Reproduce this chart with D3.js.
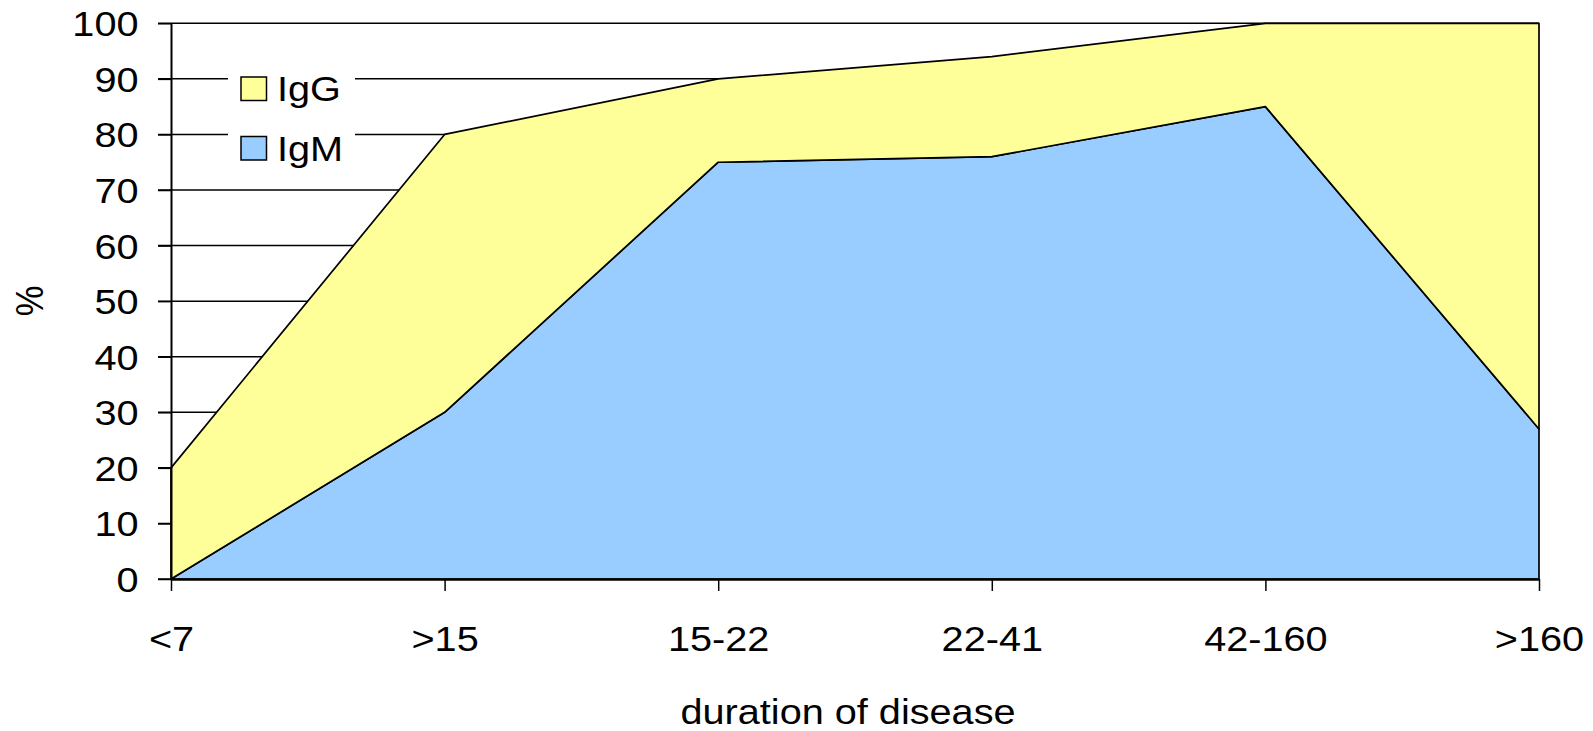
<!DOCTYPE html>
<html>
<head>
<meta charset="utf-8">
<script src="https://cdn.jsdelivr.net/npm/d3@7"></script>
<style>
  body { margin: 0; background: #fff; }
  text { font-family: "Liberation Sans", Arial, sans-serif; fill: #000; }
</style>
</head>
<body>
<svg id="chart" width="1593" height="731"></svg>
<script>
// data
const categories = ["<7", ">15", "15-22", "22-41", "42-160", ">160"]
const igM = [0, 30, 75, 76, 85, 27]
const igG = [20, 50, 15, 18, 15, 73]
const yTicks = [0, 10, 20, 30, 40, 50, 60, 70, 80, 90, 100]
const seriesNames = ["IgM", "IgG"]
const seriesColors = {"IgM": "#99CCFF", "IgG": "#FFFF99"}

// the original text looks a bit stretched sideways
const FS = 34.5
const SX = 1.15

const svg = d3.select('#chart')
const plotLeft = 171, plotRight = 1539, plotTop = 23.3, plotBottom = 579

const x = d3.scalePoint().domain(categories).range([plotLeft, plotRight])
const y = d3.scaleLinear().domain([0, 100]).range([plotBottom, plotTop])

// table for the stack
const table = categories.map((c, i) => ({cat: c, IgM: igM[i], IgG: igG[i]}))
const stacked = d3.stack().keys(seriesNames)(table)

//gridlines (behind the areas)
svg.append("g")
  .selectAll("line")
  .data(yTicks)
  .join("line")
    .attr("x1", plotLeft - 13)
    .attr("x2", plotRight)
    .attr("y1", d => y(d))
    .attr("y2", d => y(d))
    .attr("stroke", "#000")
    .attr("stroke-width", 1.5)

// areas
const area = d3.area()
  .x(d => x(d.data.cat))
  .y0(d => y(d[0]))
  .y1(d => y(d[1]))

svg.append("g")
  .selectAll("path")
  .data(stacked)
  .join("path")
    .attr("d", area)
    .attr("fill", d => seriesColors[d.key])
    .attr("stroke", "#000")
    .attr("stroke-width", 1.7)
    .attr("stroke-linejoin", "round")

// y axis
const yAxis = svg.append("g")
  .attr("transform", `translate(${plotLeft},0)`)
  .call(d3.axisLeft(y).tickValues(yTicks).tickSize(13).tickSizeOuter(0))
yAxis.select(".domain").attr("stroke-width", 2)
yAxis.selectAll(".tick line").attr("stroke-width", 1.5)
yAxis.selectAll(".tick text")
  .style("font-size", FS + "px")
  .attr("fill", "#000")
  .attr("x", -32.5 / SX)
  .attr("dy", "0.36em")
  .attr("transform", `scale(${SX},1)`)

// x axis
const xAxis = svg.append("g")
  .attr("transform", `translate(0,${plotBottom})`)
  .call(d3.axisBottom(x).tickSize(12).tickSizeOuter(0))
xAxis.select(".domain").attr("stroke-width", 2.5)
xAxis.selectAll(".tick line").attr("stroke-width", 1.5)
xAxis.selectAll(".tick text")
  .style("font-size", FS + "px")
  .attr("fill", "#000")
  .attr("y", 72)
  .attr("dy", 0)
  .attr("transform", `scale(${SX},1)`)

// axis titles
svg.append("text")
  .attr("transform", `translate(848,724) scale(${SX},1)`)
  .attr("text-anchor", "middle")
  .style("font-size", FS + "px")
  .text("duration of disease")

svg.append("text")
  .attr("transform", `translate(43,301) rotate(-90) scale(1,${SX})`)
  .attr("text-anchor", "middle")
  .style("font-size", FS + "px")
  .text("%")

// legend, white box hides the gridlines
const legend = svg.append("g")
legend.append("rect")
  .attr("x", 228).attr("y", 60).attr("width", 127).attr("height", 118)
  .attr("fill", "#fff")

const legendItems = ["IgG", "IgM"]
legendItems.forEach((name, i) => {
  legend.append("rect")
    .attr("x", 241).attr("y", 77 + i * 59.5)
    .attr("width", 25.5).attr("height", 23.5)
    .attr("fill", seriesColors[name])
    .attr("stroke", "#000")
    .attr("stroke-width", 1.5)
  legend.append("text")
    .attr("transform", `translate(277,${100.7 + i * 60}) scale(${SX},1)`)
    .style("font-size", FS + "px")
    .text(name)
})
</script>
</body>
</html>
